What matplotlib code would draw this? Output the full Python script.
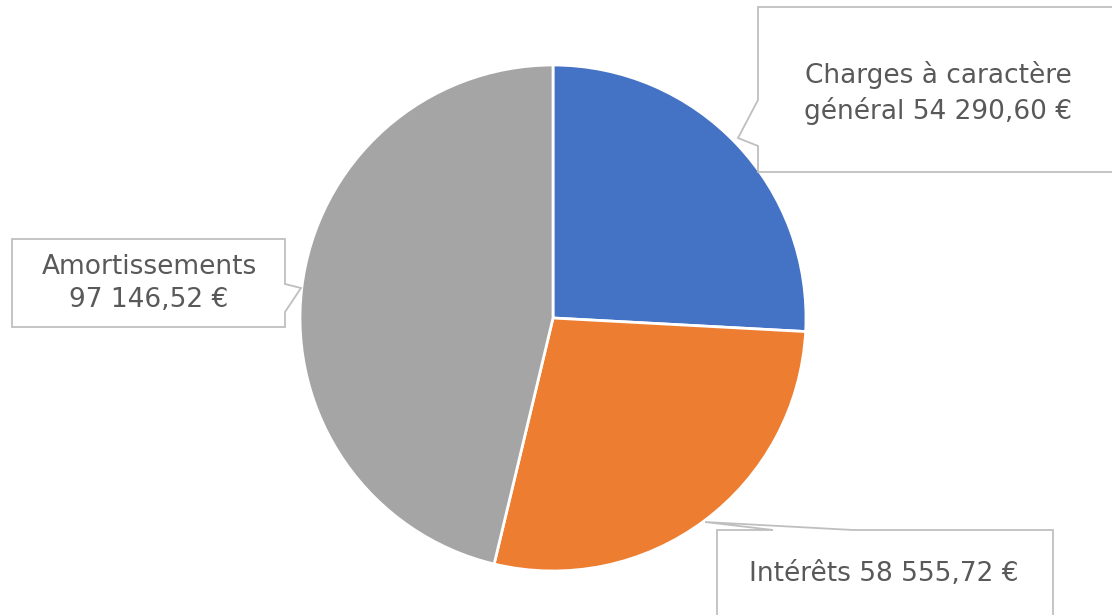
import matplotlib
matplotlib.use("Agg")
import matplotlib.pyplot as plt
from matplotlib.patches import Polygon

# data
labels = ["Charges à caractère\ngénéral", "Intérêts", "Amortissements\n"]
values = [54290.60, 58555.72, 97146.52]
colors = ["#4472C4", "#ED7D31", "#A5A5A5"]

W, H = 1112, 615


def fmt_eur(v):
    s = f"{v:,.2f}".replace(",", " ").replace(".", ",")
    return s + " €"


fig = plt.figure(figsize=(W / 100, H / 100), dpi=100)
ax = fig.add_axes([0, 0, 1, 1])

# pie, center and radius in pixel units (y flipped)
ax.pie(values, colors=colors, startangle=90, counterclock=False,
       center=(553, H - 318), radius=253, frame=True,
       wedgeprops=dict(edgecolor="white", linewidth=2))
ax.set_xlim(0, W)
ax.set_ylim(0, H)
ax.set_aspect("equal")
ax.axis("off")


def fy(pts):
    return [(x, H - y) for x, y in pts]


# callout outlines (image pixel coords), same order as values
callouts = [
    [(758, 7), (1120, 7), (1120, 172), (758, 172), (758, 146), (738, 138), (758, 100)],
    [(717, 530), (773, 530), (705, 522), (853, 530), (1053, 530), (1053, 620), (717, 620)],
    [(12, 239), (285, 239), (285, 284), (301, 288), (285, 312), (285, 327), (12, 327)],
]
text_pos = [(938, 93), (884, 574), (149, 283)]

for pts in callouts:
    ax.add_patch(Polygon(fy(pts), closed=True, facecolor="white",
                         edgecolor="#BFBFBF", linewidth=1.3, zorder=3))

for (x, y), lab, v in zip(text_pos, labels, values):
    sep = "" if lab.endswith("\n") else " "
    ax.text(x, H - y, lab + sep + fmt_eur(v), ha="center", va="center",
            fontsize=19, color="#595959", linespacing=1.35, zorder=4,
            family=["DejaVu Sans Condensed", "DejaVu Sans"])

fig.savefig("out.png", dpi=100)
